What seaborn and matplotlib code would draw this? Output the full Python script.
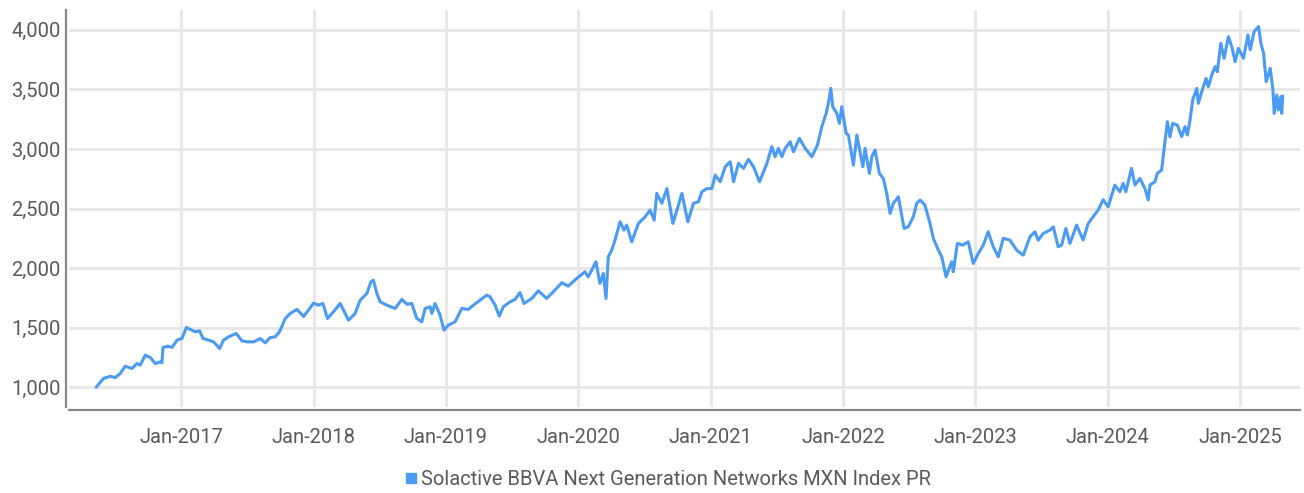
import numpy as np
import pandas as pd
import matplotlib
matplotlib.use("Agg")
import matplotlib.pyplot as plt
import matplotlib.dates as mdates
from matplotlib.ticker import FuncFormatter
from matplotlib.lines import Line2D
import seaborn as sns

SERIES_NAME = "Solactive BBVA Next Generation Networks MXN Index PR"

# Observation dates as decimal years, and index levels (MXN, price return)
years = [
    2016.358, 2016.413, 2016.464, 2016.502, 2016.539, 2016.577, 2016.628, 2016.665, 2016.690, 2016.728,
    2016.766, 2016.804, 2016.841, 2016.854, 2016.862, 2016.897, 2016.930, 2016.968, 2017.005, 2017.038,
    2017.068, 2017.106, 2017.138, 2017.164, 2017.206, 2017.244, 2017.289, 2017.319, 2017.357, 2017.415,
    2017.458, 2017.496, 2017.546, 2017.597, 2017.634, 2017.672, 2017.710, 2017.742, 2017.786, 2017.823,
    2017.874, 2017.924, 2017.961, 2017.999, 2018.037, 2018.070, 2018.105, 2018.150, 2018.201, 2018.264,
    2018.314, 2018.352, 2018.403, 2018.433, 2018.452, 2018.478, 2018.503, 2018.554, 2018.616, 2018.667,
    2018.705, 2018.742, 2018.780, 2018.818, 2018.843, 2018.881, 2018.894, 2018.918, 2018.956, 2018.986,
    2019.019, 2019.070, 2019.120, 2019.170, 2019.208, 2019.258, 2019.309, 2019.334, 2019.372, 2019.404,
    2019.434, 2019.485, 2019.523, 2019.560, 2019.591, 2019.649, 2019.699, 2019.762, 2019.812, 2019.876,
    2019.925, 2019.989, 2020.051, 2020.076, 2020.134, 2020.164, 2020.190, 2020.210, 2020.227, 2020.253,
    2020.278, 2020.316, 2020.346, 2020.366, 2020.404, 2020.454, 2020.505, 2020.542, 2020.573, 2020.593,
    2020.631, 2020.669, 2020.714, 2020.744, 2020.782, 2020.827, 2020.869, 2020.907, 2020.933, 2020.971,
    2021.008, 2021.033, 2021.071, 2021.109, 2021.147, 2021.172, 2021.209, 2021.247, 2021.285, 2021.323,
    2021.368, 2021.424, 2021.461, 2021.486, 2021.511, 2021.537, 2021.562, 2021.600, 2021.625, 2021.670,
    2021.713, 2021.764, 2021.806, 2021.839, 2021.872, 2021.889, 2021.907, 2021.922, 2021.952, 2021.972,
    2021.990, 2022.023, 2022.040, 2022.078, 2022.104, 2022.149, 2022.166, 2022.199, 2022.217, 2022.242,
    2022.274, 2022.304, 2022.330, 2022.355, 2022.380, 2022.418, 2022.461, 2022.493, 2022.531, 2022.557,
    2022.582, 2022.619, 2022.657, 2022.682, 2022.720, 2022.746, 2022.778, 2022.821, 2022.833, 2022.864,
    2022.904, 2022.946, 2022.984, 2023.022, 2023.060, 2023.097, 2023.135, 2023.173, 2023.211, 2023.261,
    2023.312, 2023.362, 2023.413, 2023.450, 2023.475, 2023.513, 2023.564, 2023.589, 2023.626, 2023.652,
    2023.684, 2023.715, 2023.765, 2023.815, 2023.853, 2023.891, 2023.928, 2023.966, 2024.004, 2024.054,
    2024.092, 2024.117, 2024.137, 2024.180, 2024.206, 2024.243, 2024.281, 2024.306, 2024.319, 2024.357,
    2024.374, 2024.407, 2024.425, 2024.450, 2024.470, 2024.490, 2024.525, 2024.558, 2024.583, 2024.601,
    2024.621, 2024.641, 2024.672, 2024.684, 2024.709, 2024.742, 2024.759, 2024.785, 2024.810, 2024.827,
    2024.853, 2024.878, 2024.910, 2024.936, 2024.961, 2024.986, 2025.024, 2025.058, 2025.075, 2025.105,
    2025.138, 2025.156, 2025.176, 2025.196, 2025.226, 2025.247, 2025.256, 2025.276, 2025.288, 2025.306,
    2025.313, 2025.321,
]
levels = [
    1000, 1073, 1092, 1081, 1115, 1176, 1157, 1199, 1185, 1269,
    1249, 1199, 1213, 1205, 1334, 1345, 1334, 1395, 1409, 1502,
    1485, 1465, 1473, 1409, 1395, 1381, 1325, 1395, 1423, 1451,
    1389, 1381, 1381, 1409, 1372, 1417, 1423, 1465, 1577, 1619,
    1653, 1594, 1647, 1705, 1689, 1703, 1577, 1633, 1703, 1563,
    1619, 1731, 1787, 1885, 1899, 1787, 1717, 1689, 1661, 1737,
    1697, 1703, 1577, 1549, 1661, 1675, 1619, 1703, 1605, 1479,
    1521, 1549, 1661, 1653, 1689, 1731, 1773, 1759, 1689, 1597,
    1675, 1717, 1737, 1795, 1703, 1745, 1809, 1745, 1801, 1877,
    1849, 1913, 1969, 1927, 2053, 1871, 1955, 1745, 2095, 2151,
    2235, 2389, 2319, 2361, 2221, 2375, 2431, 2487, 2403, 2627,
    2544, 2668, 2375, 2487, 2627, 2389, 2544, 2557, 2641, 2668,
    2668, 2781, 2725, 2851, 2893, 2725, 2879, 2837, 2913, 2851,
    2725, 2879, 3019, 2935, 3005, 2935, 3005, 3061, 2977, 3089,
    3005, 2935, 3033, 3187, 3299, 3383, 3509, 3355, 3299, 3215,
    3355, 3131, 3117, 2865, 3117, 2851, 3005, 2795, 2935, 2991,
    2795, 2753, 2627, 2459, 2544, 2599, 2333, 2347, 2431, 2544,
    2571, 2529, 2375, 2250, 2151, 2095, 1927, 2053, 1969, 2207,
    2193, 2221, 2039, 2123, 2193, 2305, 2179, 2095, 2250, 2235,
    2151, 2109, 2263, 2305, 2235, 2291, 2319, 2347, 2179, 2193,
    2333, 2207, 2361, 2235, 2375, 2431, 2487, 2574, 2515, 2697,
    2641, 2711, 2641, 2837, 2697, 2753, 2668, 2571, 2697, 2725,
    2795, 2823, 2991, 3229, 3103, 3215, 3201, 3103, 3187, 3117,
    3243, 3411, 3509, 3383, 3481, 3593, 3523, 3621, 3691, 3649,
    3887, 3761, 3943, 3859, 3733, 3845, 3761, 3958, 3832, 3986,
    4028, 3887, 3803, 3565, 3677, 3495, 3299, 3453, 3327, 3439,
    3299, 3445,
]

y_ticks = [1000, 1500, 2000, 2500, 3000, 3500, 4000]
x_tick_years = list(range(2017, 2026))


def to_datetime(dec_year):
    yr = int(np.floor(dec_year))
    start = pd.Timestamp(year=yr, month=1, day=1)
    end = pd.Timestamp(year=yr + 1, month=1, day=1)
    return start + (end - start) * (dec_year - yr)


df = pd.DataFrame({
    "date": [to_datetime(y) for y in years],
    "level": levels,
})

LINE_COLOR = "#4B9BF5"
TEXT_COLOR = "#5A5A5A"
GRID_COLOR = "#E6E6E6"

sns.set_theme(style="whitegrid")
plt.rcParams["font.family"] = ["Roboto", "DejaVu Sans"]

fig = plt.figure(figsize=(13.04, 4.93), dpi=100)
ax = fig.add_axes([0.053, 0.174, 0.944, 0.806])

sns.lineplot(data=df, x="date", y="level", ax=ax, color=LINE_COLOR,
             linewidth=2.2, legend=False)

ax.set_xlim(to_datetime(2016.154), to_datetime(2025.452))
ax.set_ylim(832, 4168)
ax.set_yticks(y_ticks)
ax.yaxis.set_major_formatter(FuncFormatter(lambda v, p: f"{int(v):,}"))
ax.set_xticks([pd.Timestamp(year=y, month=1, day=1) for y in x_tick_years])
ax.xaxis.set_major_formatter(mdates.DateFormatter("%b-%Y"))

ax.set_xlabel("")
ax.set_ylabel("")
ax.grid(True, color=GRID_COLOR, linewidth=2.0)
ax.set_axisbelow(True)

sns.despine(ax=ax, top=True, right=True, offset=2)
for side in ("left", "bottom"):
    ax.spines[side].set_color("#8A8A8A")
    ax.spines[side].set_linewidth(1.6)

ax.tick_params(axis="both", length=0, colors=TEXT_COLOR, labelsize=14.5)
ax.tick_params(axis="y", pad=4)
ax.tick_params(axis="x", pad=13)

handle = Line2D([], [], linestyle="none", marker="s", markersize=7.5,
                markerfacecolor=LINE_COLOR, markeredgecolor=LINE_COLOR)
leg = fig.legend([handle], [SERIES_NAME], loc="center", bbox_to_anchor=(0.512, 0.028),
                 frameon=False, handlelength=0.6, handletextpad=0.2,
                 prop={"size": 14.5})
for t in leg.get_texts():
    t.set_color(TEXT_COLOR)

fig.savefig("out.png", dpi=100)
